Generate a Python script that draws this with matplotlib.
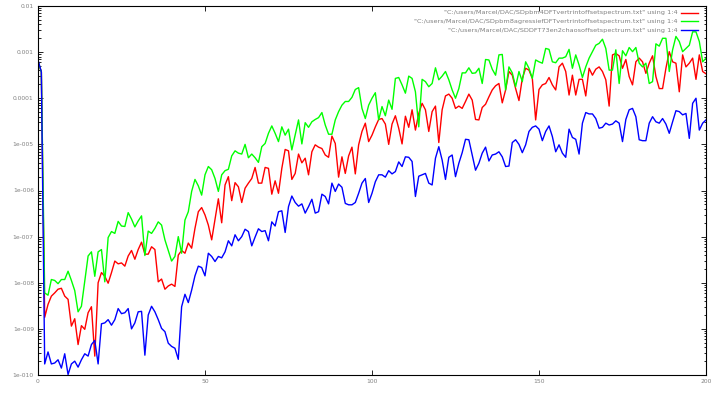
import matplotlib
matplotlib.use("Agg")
import matplotlib.pyplot as plt
from matplotlib.lines import Line2D
import numpy as np

# log10 of the column-4 values, one per x = 0..200
red_exp = [
    -3.20, -3.43, -8.75, -8.47, -8.29, -8.22, -8.14, -8.12, -8.29, -8.36,
    -8.94, -8.78, -9.34, -8.93, -9.01, -8.65, -8.52, -9.59, -8.00, -7.78,
    -7.86, -8.01, -7.78, -7.53, -7.59, -7.57, -7.64, -7.42, -7.30, -7.49,
    -7.28, -7.12, -7.38, -7.38, -7.22, -7.28, -7.98, -7.92, -8.14, -8.07,
    -8.03, -8.08, -7.40, -7.30, -7.36, -7.14, -7.25, -6.82, -6.46, -6.37,
    -6.53, -6.75, -7.07, -6.62, -6.18, -6.70, -5.88, -5.70, -6.22, -5.83,
    -5.92, -6.26, -5.95, -5.84, -5.74, -5.50, -5.84, -5.84, -5.50, -5.52,
    -6.08, -5.79, -6.06, -5.52, -5.11, -5.14, -5.76, -5.63, -5.21, -5.40,
    -5.30, -5.66, -5.16, -5.01, -5.06, -5.09, -5.23, -5.28, -4.82, -4.98,
    -5.71, -5.27, -5.63, -5.25, -5.06, -5.64, -5.01, -4.72, -4.54, -4.94,
    -4.80, -4.62, -4.46, -4.44, -4.56, -5.00, -4.56, -4.38, -4.65, -4.99,
    -4.39, -4.63, -4.25, -4.69, -4.33, -4.11, -4.25, -4.72, -4.29, -4.17,
    -4.96, -4.25, -3.95, -3.91, -4.00, -4.22, -4.17, -4.22, -4.07, -3.91,
    -4.04, -4.46, -4.47, -4.20, -4.13, -3.97, -3.82, -3.73, -3.68, -4.10,
    -3.82, -3.42, -3.50, -3.79, -4.05, -3.57, -3.35, -3.39, -3.57, -4.47,
    -3.81, -3.71, -3.68, -3.55, -3.71, -3.82, -3.32, -3.24, -3.42, -3.93,
    -3.50, -3.93, -3.59, -3.59, -3.95, -3.35, -3.50, -3.37, -3.32, -3.42,
    -3.60, -4.17, -3.06, -3.03, -3.08, -3.35, -3.16, -3.53, -3.71, -3.21,
    -3.13, -3.21, -3.46, -3.24, -3.08, -3.53, -3.79, -3.79, -3.35, -2.99,
    -3.21, -3.24, -3.86, -3.06, -3.32, -3.24, -3.13, -3.59, -3.06, -3.42,
    -3.47,
]
green_exp = [
    -3.20, -3.43, -8.22, -8.27, -7.93, -7.95, -8.02, -7.93, -7.93, -7.75,
    -7.95, -8.17, -8.63, -8.51, -7.96, -7.42, -7.33, -7.86, -7.33, -7.28,
    -7.98, -7.02, -6.89, -6.93, -6.67, -6.77, -6.78, -6.48, -6.62, -6.79,
    -6.66, -6.55, -7.41, -6.88, -6.93, -6.82, -6.68, -6.75, -7.07, -7.30,
    -7.53, -7.43, -7.00, -7.36, -6.64, -6.46, -6.02, -5.76, -5.90, -6.10,
    -5.66, -5.48, -5.55, -5.74, -6.02, -5.66, -5.57, -5.54, -5.25, -5.14,
    -5.19, -5.21, -5.00, -5.29, -5.21, -5.29, -5.39, -5.05, -4.98, -4.76,
    -4.60, -4.76, -4.94, -4.62, -4.80, -4.67, -5.12, -4.80, -4.47, -4.99,
    -4.53, -4.63, -4.51, -4.46, -4.42, -4.31, -4.58, -4.78, -4.78, -4.47,
    -4.29, -4.15, -4.07, -4.07, -3.98, -3.81, -3.77, -4.22, -4.44, -4.15,
    -4.00, -3.88, -4.47, -4.18, -4.38, -4.04, -4.24, -3.57, -3.55, -3.71,
    -3.89, -3.52, -3.57, -3.86, -4.62, -3.59, -3.64, -3.75, -3.68, -3.34,
    -3.60, -3.52, -3.42, -3.60, -3.82, -4.00, -3.79, -3.45, -3.45, -3.34,
    -3.46, -3.45, -3.35, -3.68, -3.16, -3.17, -3.37, -3.50, -3.06, -3.05,
    -3.82, -3.32, -3.45, -3.75, -3.42, -3.64, -3.21, -3.35, -3.57, -3.17,
    -3.21, -3.24, -2.92, -2.94, -3.21, -3.23, -3.13, -3.13, -3.10, -2.94,
    -3.35, -3.06, -3.28, -3.55, -3.32, -3.13, -2.99, -2.85, -2.81, -2.72,
    -2.92, -3.39, -3.39, -2.95, -3.68, -2.97, -3.08, -2.90, -2.99, -2.90,
    -3.24, -3.32, -3.24, -3.68, -3.64, -2.82, -2.87, -2.70, -2.70, -3.42,
    -2.95, -2.66, -2.77, -2.99, -2.92, -2.85, -2.56, -2.56, -2.77, -3.21,
    -3.13,
]
blue_exp = [
    -3.17, -3.43, -9.76, -9.50, -9.76, -9.74, -9.67, -9.85, -9.54, -9.99,
    -9.76, -9.70, -9.83, -9.67, -9.54, -9.59, -9.34, -9.25, -9.76, -8.89,
    -8.87, -8.80, -8.92, -8.80, -8.56, -8.67, -8.65, -8.56, -9.00, -8.87,
    -8.63, -8.62, -9.57, -8.70, -8.51, -8.63, -8.80, -8.99, -9.06, -9.31,
    -9.38, -9.42, -9.66, -8.52, -8.25, -8.43, -8.16, -7.85, -7.64, -7.67,
    -7.85, -7.36, -7.43, -7.54, -7.43, -7.46, -7.33, -7.09, -7.20, -6.96,
    -7.09, -7.00, -6.84, -6.89, -7.20, -7.01, -6.83, -6.89, -6.87, -7.09,
    -6.68, -6.77, -6.46, -6.44, -6.91, -6.35, -6.12, -6.26, -6.34, -6.29,
    -6.49, -6.35, -6.19, -6.49, -6.46, -6.08, -6.13, -6.29, -5.84, -6.02,
    -5.86, -5.93, -6.28, -6.31, -6.31, -6.26, -6.06, -5.84, -5.74, -6.26,
    -6.06, -5.81, -5.66, -5.66, -5.71, -5.57, -5.64, -5.59, -5.38, -5.48,
    -5.27, -5.28, -5.37, -6.13, -5.69, -5.66, -5.63, -5.84, -5.88, -5.30,
    -5.05, -5.34, -5.76, -5.28, -5.23, -5.70, -5.41, -5.18, -4.89, -4.90,
    -5.23, -5.56, -5.41, -5.19, -5.06, -5.36, -5.23, -5.21, -5.16, -5.27,
    -5.48, -5.47, -4.96, -4.90, -5.00, -5.18, -5.01, -4.72, -4.63, -4.60,
    -4.67, -4.92, -4.72, -4.60, -4.83, -5.16, -5.01, -5.19, -5.28, -4.67,
    -4.85, -4.89, -5.21, -4.54, -4.31, -4.34, -4.34, -4.44, -4.65, -4.63,
    -4.54, -4.58, -4.56, -4.49, -4.54, -4.94, -4.46, -4.25, -4.22, -4.40,
    -4.90, -4.92, -4.92, -4.54, -4.40, -4.51, -4.54, -4.44, -4.56, -4.76,
    -4.51, -4.27, -4.29, -4.36, -4.33, -4.87, -4.11, -4.00, -4.69, -4.54,
    -4.47,
]

labels = [
    '"C:/users/Marcel/DAC/SDpbm4DFTvertrintoffsetspectrum.txt" using 1:4',
    '"C:/users/Marcel/DAC/SDpbm8agressiefDFTvertrintoffsetspectrum.txt" using 1:4',
    '"C:/users/Marcel/DAC/SDDFT73en2chaosoffsetspectrum.txt" using 1:4',
]
colors = ['#ff0000', '#00ff00', '#0000ff']

y_ticks = [1e-10, 1e-9, 1e-8, 1e-7, 1e-6, 1e-5, 1e-4, 1e-3, 1e-2]
y_ticklabels = ['1e-010', '1e-009', '1e-008', '1e-007', '1e-006',
                '1e-005', '0.0001', '0.001', '0.01']
x_ticks = [0, 50, 100, 150, 200]

x = np.arange(len(red_exp))
series = [10.0 ** np.array(red_exp), 10.0 ** np.array(green_exp),
          10.0 ** np.array(blue_exp)]

fig = plt.figure(figsize=(7.18, 3.93), dpi=100)
ax = fig.add_axes([38 / 718, 18 / 393, 668 / 718, 369 / 393])

for ys, c in zip(series, colors):
    ax.plot(x, ys, color=c, lw=1.0)

ax.set_yscale('log')
ax.set_xlim(0, 200)
ax.set_ylim(1e-10, 1e-2)
ax.set_yticks(y_ticks)
ax.set_yticklabels(y_ticklabels)
ax.yaxis.set_minor_locator(matplotlib.ticker.LogLocator(base=10, subs=np.arange(2, 10)))
ax.yaxis.set_minor_formatter(matplotlib.ticker.NullFormatter())
ax.set_xticks(x_ticks)

ax.tick_params(which='both', direction='in', top=True, right=True,
               labelsize=4.3, labelcolor='#808080', width=0.6)
ax.tick_params(which='major', length=3.5, pad=3)
ax.tick_params(which='minor', length=1.8)
for s in ax.spines.values():
    s.set_linewidth(0.8)

# gnuplot-style key: right aligned text, sample line on the right
for i, (lab, c) in enumerate(zip(labels, colors)):
    yk = 1 - (6.7 + 8.7 * i) / 369
    ax.text(0.957, yk, lab, transform=ax.transAxes, ha='right', va='center',
            fontsize=4.65, color='#808080')
    ax.add_line(Line2D([0.9625, 0.9875], [yk, yk], transform=ax.transAxes,
                       color=c, lw=1.0))

fig.savefig('out.png', dpi=100)
